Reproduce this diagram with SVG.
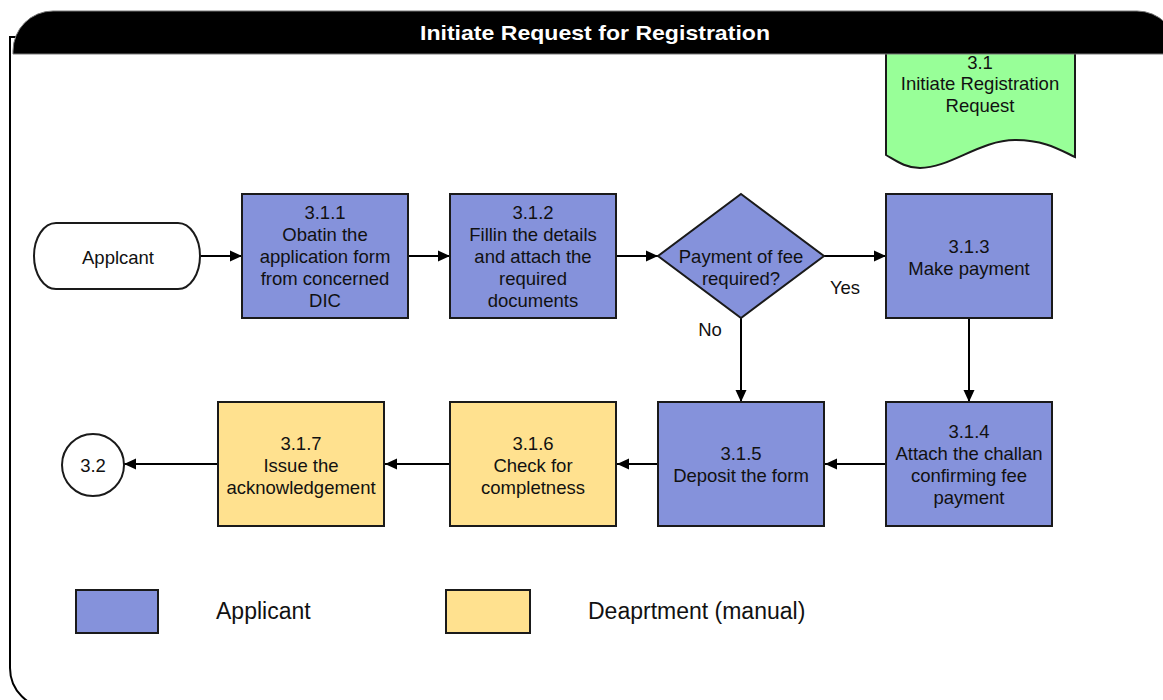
<svg xmlns="http://www.w3.org/2000/svg" width="1163" height="700" viewBox="0 0 1163 700">
<defs>
<marker id="ah" viewBox="0 0 12 12" refX="12" refY="6" markerWidth="12" markerHeight="12" markerUnits="userSpaceOnUse" orient="auto">
<path d="M0,0.5 L12,6 L0,11.5 Z" fill="#000"/>
</marker>
<style>
text{font-family:"Liberation Sans",Arial,sans-serif;fill:#111}
.t{font-size:18.5px;text-anchor:middle}
.blue{fill:#8592DB;stroke:#1a1a1a;stroke-width:2}
.yel{fill:#FFE18F;stroke:#1a1a1a;stroke-width:2}
.conn{stroke:#000;stroke-width:2;fill:none;marker-end:url(#ah)}
.lg{font-size:23px}
</style>
</defs>
<rect width="1163" height="700" fill="#fff"/>
<path id="frame" d="M10,37 L10,668 A40,40 0 0 0 50,708 L1146,708 A40,40 0 0 0 1186,668 L1186,37 Z" fill="none" stroke="#000" stroke-width="2"/>
<g id="n31">
<path d="M886,50 L1075,50 L1075,157 C1060,150 1045,140 1015,140 C980,140 950,168 920,168 C905,168 895,160 886,155 Z" fill="#98FF98" stroke="#1a1a1a" stroke-width="2"/>
<text class="t" x="980" y="68.5">3.1</text>
<text class="t" x="980" y="89.5">Initiate Registration</text>
<text class="t" x="980" y="111.5">Request</text>
</g>
<g id="header">
<path d="M13,54 L13,51 A40,40 0 0 1 53,11 L1137,11 A40,40 0 0 1 1177,51 L1177,54 Z" fill="#000" stroke="#777" stroke-width="1"/>
<text x="595" y="39.5" text-anchor="middle" font-size="21" font-weight="bold" textLength="350" lengthAdjust="spacingAndGlyphs" style="fill:#fff">Initiate Request for Registration</text>
</g>
<g id="connectors">
<line class="conn" x1="201" y1="256" x2="242" y2="256"/>
<line class="conn" x1="409" y1="256" x2="450" y2="256"/>
<line class="conn" x1="617" y1="256" x2="658" y2="256"/>
<line class="conn" x1="824" y1="256" x2="886" y2="256"/>
<line class="conn" x1="741" y1="318" x2="741" y2="402"/>
<line class="conn" x1="969" y1="319" x2="969" y2="402"/>
<line class="conn" x1="885" y1="464" x2="825" y2="464"/>
<line class="conn" x1="657" y1="464" x2="617" y2="464"/>
<line class="conn" x1="449" y1="464" x2="385" y2="464"/>
<line class="conn" x1="217" y1="464" x2="124" y2="464"/>
<text x="845" y="293.5" font-size="18.5" text-anchor="middle">Yes</text>
<text x="710" y="336" font-size="18.5" text-anchor="middle">No</text>
</g>
<g id="applicant">
<path d="M56,223 L178,223 A22,33 0 0 1 178,289 L56,289 A22,33 0 0 1 56,223 Z" fill="#fff" stroke="#1a1a1a" stroke-width="2"/>
<text class="t" x="118" y="263.5">Applcant</text>
</g>
<g id="n311">
<rect class="blue" x="242" y="194" width="166" height="124"/>
<text class="t" x="325" y="218.5">3.1.1</text>
<text class="t" x="325" y="240.5">Obatin the</text>
<text class="t" x="325" y="262.5">application form</text>
<text class="t" x="325" y="284.5">from concerned</text>
<text class="t" x="325" y="306.5">DIC</text>
</g>
<g id="n312">
<rect class="blue" x="450" y="194" width="166" height="124"/>
<text class="t" x="533" y="218.5">3.1.2</text>
<text class="t" x="533" y="240.5">Fillin the details</text>
<text class="t" x="533" y="262.5">and attach the</text>
<text class="t" x="533" y="284.5">required</text>
<text class="t" x="533" y="306.5">documents</text>
</g>
<g id="decision">
<path class="blue" d="M741,194 L824,256 L741,318 L658,256 Z"/>
<text class="t" x="741" y="262.5">Payment of fee</text>
<text class="t" x="741" y="284.5">required?</text>
</g>
<g id="n313">
<rect class="blue" x="886" y="194" width="166" height="124"/>
<text class="t" x="969" y="252.5">3.1.3</text>
<text class="t" x="969" y="274.5">Make payment</text>
</g>
<g id="n314">
<rect class="blue" x="886" y="402" width="166" height="124"/>
<text class="t" x="969" y="437.5">3.1.4</text>
<text class="t" x="969" y="459.5">Attach the challan</text>
<text class="t" x="969" y="481.5">confirming fee</text>
<text class="t" x="969" y="503.5">payment</text>
</g>
<g id="n315">
<rect class="blue" x="658" y="402" width="166" height="124"/>
<text class="t" x="741" y="459.5">3.1.5</text>
<text class="t" x="741" y="481.5">Deposit the form</text>
</g>
<g id="n316">
<rect class="yel" x="450" y="402" width="166" height="124"/>
<text class="t" x="533" y="449.5">3.1.6</text>
<text class="t" x="533" y="471.5">Check for</text>
<text class="t" x="533" y="493.5">completness</text>
</g>
<g id="n317">
<rect class="yel" x="218" y="402" width="166" height="124"/>
<text class="t" x="301" y="449.5">3.1.7</text>
<text class="t" x="301" y="471.5">Issue the</text>
<text class="t" x="301" y="493.5">acknowledgement</text>
</g>
<g id="n32">
<circle cx="93" cy="465" r="31" fill="#fff" stroke="#1a1a1a" stroke-width="2"/>
<text class="t" x="93" y="471.5">3.2</text>
</g>
<g id="legend">
<rect class="blue" x="76" y="590" width="82" height="43"/>
<text class="lg" x="216" y="619">Applicant</text>
<rect class="yel" x="446" y="590" width="84" height="43"/>
<text class="lg" x="588" y="619">Deaprtment (manual)</text>
</g>
</svg>
